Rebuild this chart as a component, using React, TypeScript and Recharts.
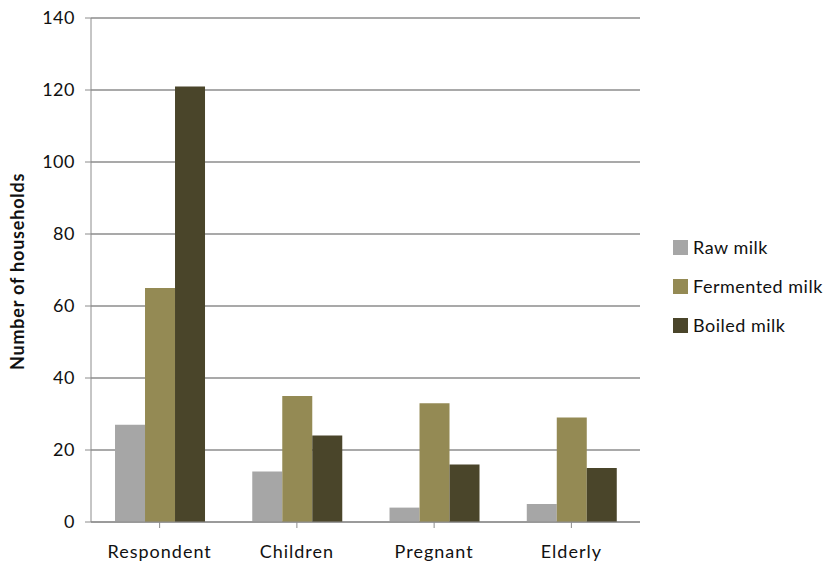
import { Bar, BarChart, CartesianGrid, XAxis, YAxis } from "recharts";

const categories = ["Respondent", "Children", "Pregnant", "Elderly"];
const rawMilk = [27, 14, 4, 5];
const fermentedMilk = [65, 35, 33, 29];
const boiledMilk = [121, 24, 16, 15];
const yTicks = [0, 20, 40, 60, 80, 100, 120, 140];

const SERIES = [
  { key: "raw", name: "Raw milk", color: "#A6A6A6" },
  { key: "fermented", name: "Fermented milk", color: "#948A54" },
  { key: "boiled", name: "Boiled milk", color: "#4A452A" },
];

const FONT = "Lato, 'Open Sans', sans-serif";

const data = categories.map((name, i) => ({
  name,
  raw: rawMilk[i],
  fermented: fermentedMilk[i],
  boiled: boiledMilk[i],
}));

export default function App() {
  return (
    <div style={{ position: "absolute", left: 0, top: 0, width: 829, height: 562, background: "#fff", fontFamily: FONT }}>
      <BarChart
        width={829}
        height={562}
        data={data}
        margin={{ top: 18, right: 189, bottom: 10, left: 0 }}
        barCategoryGap="17.5%"
        barGap={0}
      >
        <CartesianGrid vertical={false} stroke="#8C8C8C" strokeWidth={1.5} />
        <XAxis
          dataKey="name"
          stroke="#8C8C8C"
          tickLine={{ stroke: "#8C8C8C" }}
          tickSize={6}
          tick={{ fill: "#111", fontSize: 18, fontFamily: FONT, dy: 15, style: { letterSpacing: 1 } }}
          interval={0}
        />
        <YAxis
          width={91}
          domain={[0, 140]}
          ticks={yTicks}
          stroke="#8C8C8C"
          tickLine={{ stroke: "#8C8C8C" }}
          tickSize={6}
          tick={{ fill: "#111", fontSize: 18, fontFamily: FONT, dx: -8, style: { letterSpacing: 0.5 } }}
          label={{
            value: "Number of households",
            angle: -90,
            position: "insideLeft",
            dx: 13,
            dy: 100,
            style: { fontWeight: "bold", fontSize: 18, fill: "#111", fontFamily: FONT, letterSpacing: 0.8 },
          }}
        />
        {SERIES.map((s) => (
          <Bar key={s.key} dataKey={s.key} name={s.name} fill={s.color} isAnimationActive={false} />
        ))}
      </BarChart>
      <div style={{ position: "absolute", left: 673, top: 236 }}>
        {SERIES.map((s) => (
          <div key={s.key} style={{ display: "flex", alignItems: "center", height: 22, marginBottom: 17 }}>
            <div style={{ width: 15, height: 15, background: s.color, marginRight: 5 }} />
            <span style={{ fontSize: 18, letterSpacing: 0.5, color: "#111", whiteSpace: "nowrap" }}>{s.name}</span>
          </div>
        ))}
      </div>
    </div>
  );
}
